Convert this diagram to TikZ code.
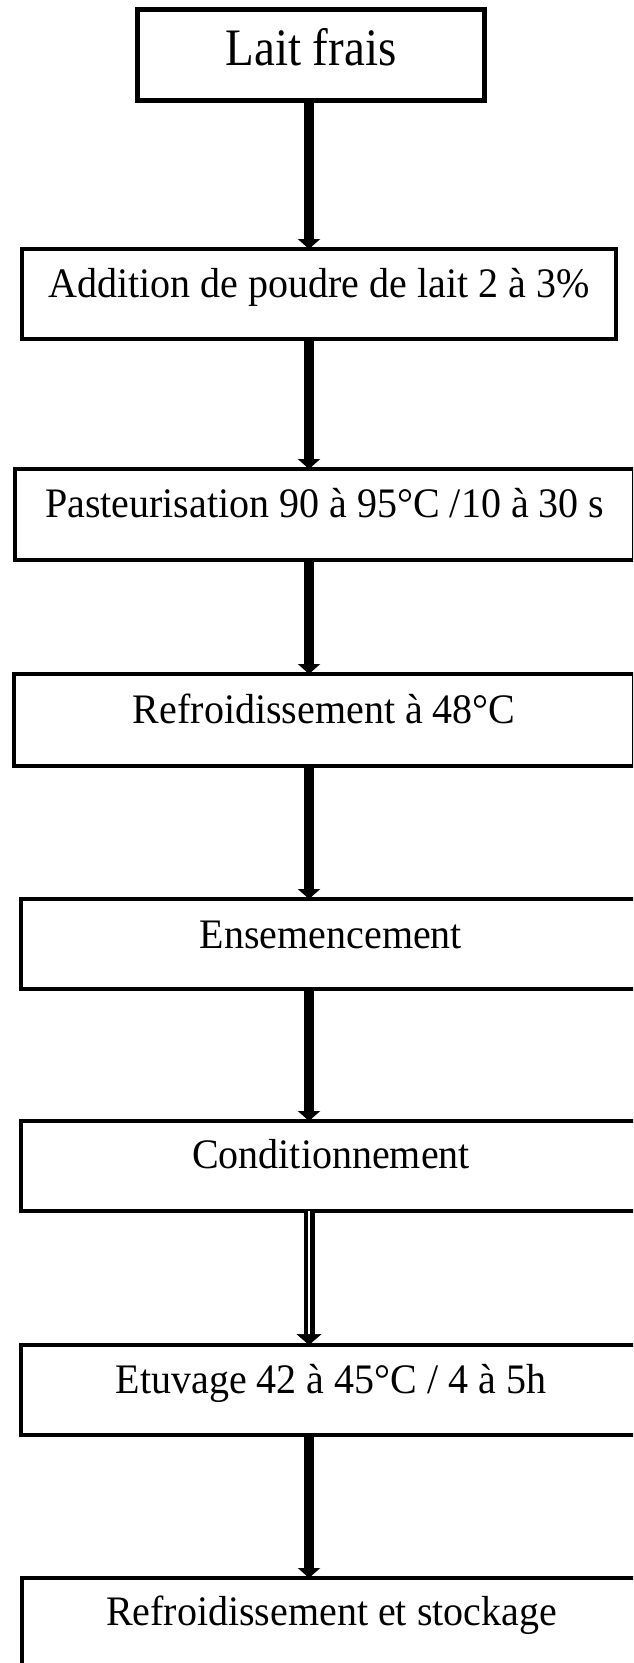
\documentclass[tikz,border=0pt]{standalone}
\usepackage{fontspec}
\setmainfont{Liberation Serif}
\usetikzlibrary{arrows.meta,calc}
\begin{document}
\begin{tikzpicture}[x=1pt,y=-1pt,
  box/.style={draw=black, line width=4.5pt, rectangle, inner sep=0pt, outer sep=0pt,
    anchor=north west, align=center, font=\fontsize{40}{48}\selectfont},
  flow/.style={line width=10pt, -{Triangle[width=22pt,length=10pt]}},
  dblshaft/.style={line width=4.5pt, double=white, double distance=2pt},
  tiponly/.style={line width=0.5pt, -{Triangle[width=25pt,length=11pt]}}]
\useasboundingbox (0,0) rectangle (633,1663);
\clip (0,0) rectangle (633,1663);
\fill[white] (0,0) rectangle (633,1663);
\coordinate (col) at (309,0);
\node[box, line width=5pt, minimum width=347pt, text height=55.5pt, text depth=35.5pt,
  font=\fontsize{47}{50}\selectfont] (b1) at (137.5,9.5) {\scalebox{1}[1.12]{Lait frais}};
\node[box, minimum width=594pt, text height=48pt, text depth=42pt] (b2) at (22,249)
  {\scalebox{1}[1.05]{Addition de poudre de lait 2 à 3\%}};
\node[box, minimum width=619.5pt, text height=48pt, text depth=43pt] (b3) at (15,469)
  {\scalebox{1}[1.05]{Pasteurisation 90 à 95°C /10 à 30 s}};
\node[box, minimum width=620.5pt, text height=49pt, text depth=43pt] (b4) at (14,674)
  {\scalebox{1}[1.05]{Refroidissement à 48°C}};
\node[box, minimum width=620pt, text height=49pt, text depth=41pt] (b5) at (21,899)
  {\scalebox{1}[1.05]{Ensemencement}};
\node[box, minimum width=620pt, text height=47pt, text depth=43pt] (b6) at (21,1121)
  {\scalebox{1}[1.05]{Conditionnement}};
\node[box, minimum width=620pt, text height=48pt, text depth=42pt] (b7) at (21,1345)
  {\scalebox{1}[1.05]{Etuvage 42 à 45°C / 4 à 5h}};
\node[box, minimum width=619pt, text height=47pt, text depth=80pt] (b8) at (22,1578)
  {\scalebox{1}[1.05]{Refroidissement et stockage}};
\draw[flow] (b1.south -| col) -- (b2.north -| col);
\draw[flow] (b2.south -| col) -- (b3.north -| col);
\draw[flow] (b3.south -| col) -- (b4.north -| col);
\draw[flow] (b4.south -| col) -- (b5.north -| col);
\draw[flow] (b5.south -| col) -- (b6.north -| col);
\draw[dblshaft] (b6.south -| col) -- ($(b7.north -| col)+(0,-10)$);
\draw[tiponly] ($(b7.north -| col)+(0,-11)$) -- (b7.north -| col);
\draw[flow] (b7.south -| col) -- (b8.north -| col);
\end{tikzpicture}
\end{document}
